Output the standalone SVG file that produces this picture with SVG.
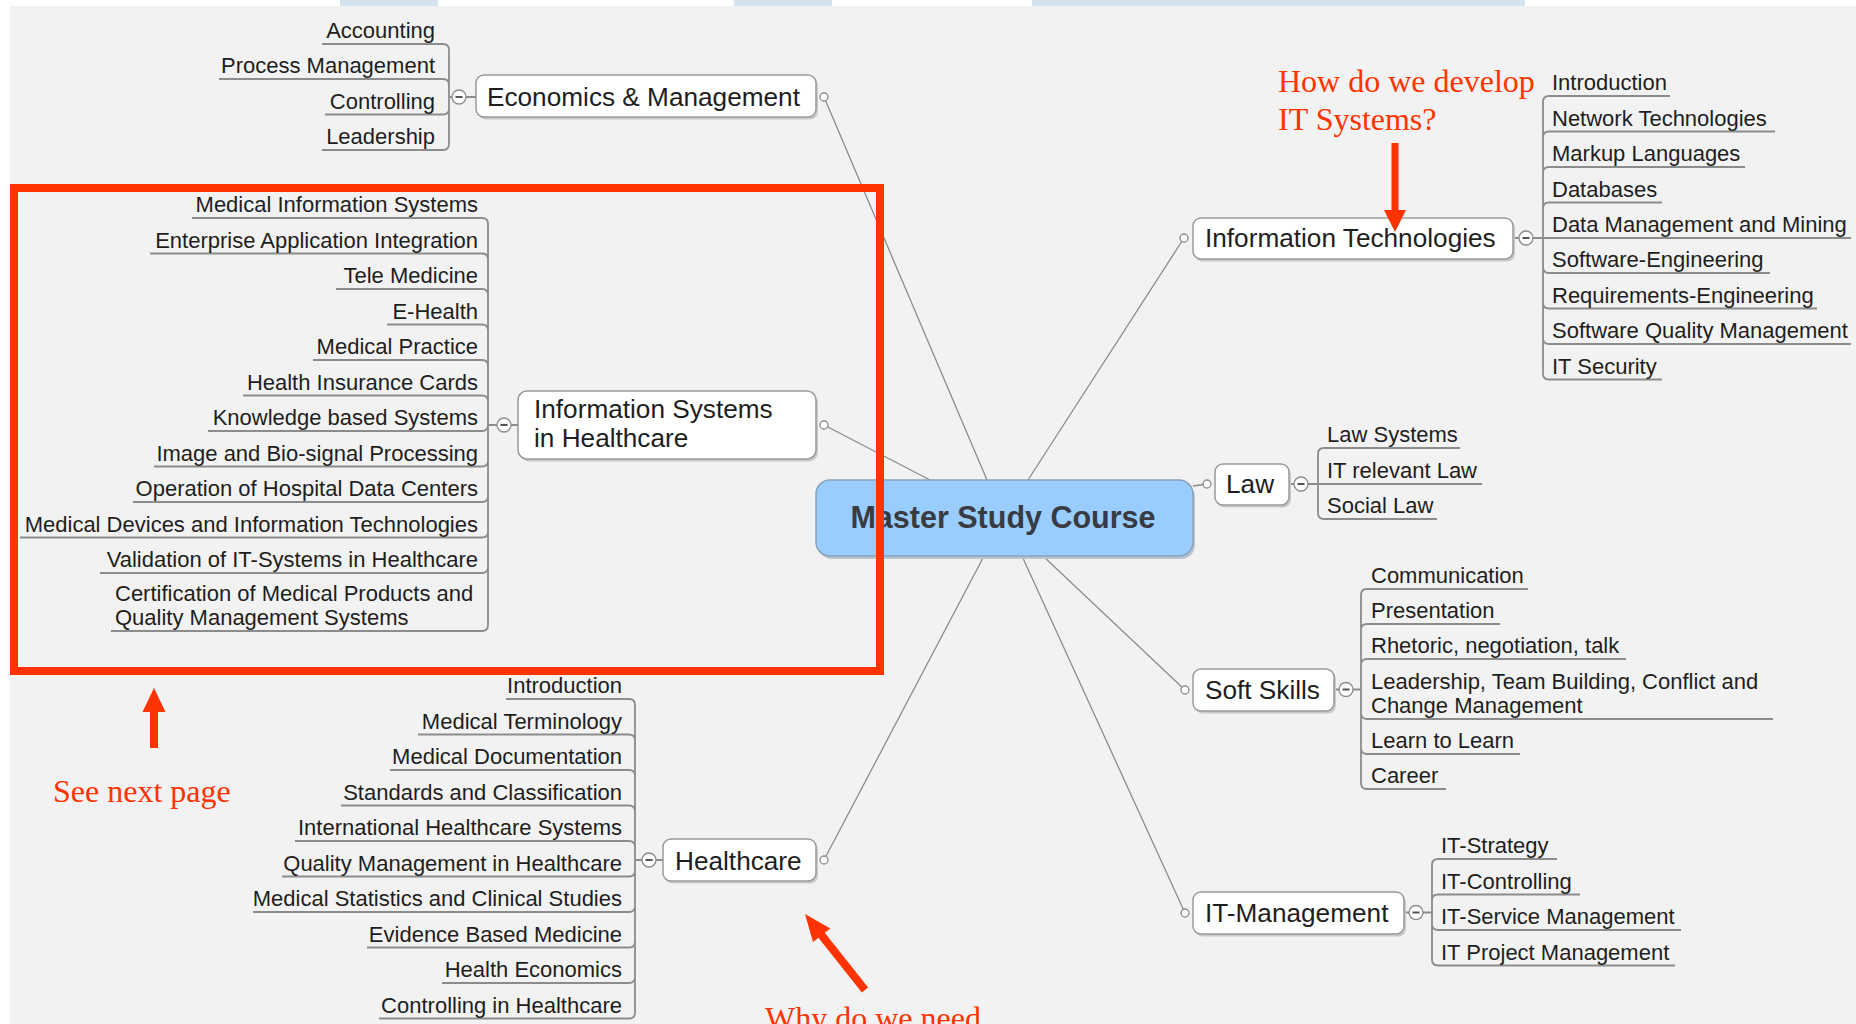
<svg xmlns="http://www.w3.org/2000/svg" width="1856" height="1024" viewBox="0 0 1856 1024">
<style>
.box{fill:#fff;stroke:#9a9a9a;stroke-width:1.5}
.sh{fill:#c9c9c9}
.tm{font-family:"Liberation Sans",Arial,sans-serif;font-size:26.2px;fill:#1e1e1e}
.tl{font-family:"Liberation Sans",Arial,sans-serif;font-size:22px;fill:#1e1e1e}
.end{text-anchor:end}
.ul{stroke:#8c8c8c;stroke-width:1.8;fill:none}
.cn{stroke:#8c8c8c;stroke-width:1.8;fill:none}
.sp{stroke:#8c8c8c;stroke-width:1.3;fill:none}
.kn{fill:#fff;stroke:#8c8c8c;stroke-width:1.3}
.mi{stroke:#555;stroke-width:2}
.ann{font-family:"Liberation Serif","Times New Roman",serif;font-size:32px;fill:#ff3300}
.red{fill:#ff3300}
</style>
<defs>
<g id="col"><circle class="kn" r="7"/><line class="mi" x1="-3.5" y1="0" x2="3.5" y2="0"/></g>
</defs>
<rect x="0" y="0" width="1856" height="1024" fill="#fff"/>
<rect x="10" y="6" width="1846" height="1018" fill="#f2f2f2"/>
<rect x="340" y="0" width="98" height="6" fill="#d4e4ee"/>
<rect x="734" y="0" width="98" height="6" fill="#d4e4ee"/>
<rect x="1032" y="0" width="493" height="6" fill="#d4e4ee"/>

<g id="connectors">
<path class="sp" d="M824 97L987 480M824 425L930 480M824 860L984 556M1184 238L1028 480M1193 486L1207 484M1043 556L1185 690M1022 556L1185 913"/>
<path class="cn" d="M449 97H476M443 44Q449 44 449 50V97M443 79Q449 79 449 85V97M443 114.5Q449 114.5 449 108.5V97M443 150Q449 150 449 144V97"/>
<path class="cn" d="M488 425H518M482 218Q488 218 488 224V425M482 253.5Q488 253.5 488 259.5V425M482 289Q488 289 488 295V425M482 324.5Q488 324.5 488 330.5V425M482 360Q488 360 488 366V425M482 395.5Q488 395.5 488 401.5V425M482 431Q488 431 488 425M482 466.5Q488 466.5 488 460.5V425M482 502Q488 502 488 496V425M482 537.5Q488 537.5 488 531.5V425M482 573Q488 573 488 567V425M482 631Q488 631 488 625V425"/>
<path class="cn" d="M635 860H663M629 699Q635 699 635 705V860M629 734.5Q635 734.5 635 740.5V860M629 770Q635 770 635 776V860M629 805.5Q635 805.5 635 811.5V860M629 841Q635 841 635 847V860M629 876.5Q635 876.5 635 870.5V860M629 912Q635 912 635 906V860M629 947.5Q635 947.5 635 941.5V860M629 983Q635 983 635 977V860M629 1018.5Q635 1018.5 635 1012.5V860"/>
<path class="cn" d="M1513 238H1549M1549 96Q1543 96 1543 102V238M1549 131.5Q1543 131.5 1543 137.5V238M1549 167Q1543 167 1543 173V238M1549 202.5Q1543 202.5 1543 208.5V238M1549 273Q1543 273 1543 267V238M1549 308.5Q1543 308.5 1543 302.5V238M1549 344Q1543 344 1543 338V238M1549 379.5Q1543 379.5 1543 373.5V238"/>
<path class="cn" d="M1289 484H1324M1324 448Q1318 448 1318 454V484M1324 519Q1318 519 1318 513V484"/>
<path class="cn" d="M1334 689.5H1361M1367 589Q1361 589 1361 595V689.5M1367 624Q1361 624 1361 630V689.5M1367 659Q1361 659 1361 665V689.5M1367 719Q1361 719 1361 713V689.5M1367 754Q1361 754 1361 748V689.5M1367 789Q1361 789 1361 783V689.5"/>
<path class="cn" d="M1404 912.5H1432M1438 859Q1432 859 1432 865V912.5M1438 894.5Q1432 894.5 1432 900.5V912.5M1438 930Q1432 930 1432 924V912.5M1438 965.5Q1432 965.5 1432 959.5V912.5"/>
</g>

<g id="central">
<rect x="818" y="483" width="377" height="76" rx="14" fill="#b9c6d2"/>
<rect x="816" y="480" width="377" height="76" rx="14" fill="#99ccff" stroke="#8aa2ba" stroke-width="1.5"/>
<text x="1003" y="528" text-anchor="middle" font-family="Liberation Sans,Arial,sans-serif" font-weight="bold" font-size="30.5" fill="#383c42">Master Study Course</text>
</g>

<g id="economics">
<rect class="sh" x="478" y="77.5" width="340" height="42" rx="8"/>
<rect class="box" x="476" y="75" width="340" height="42" rx="8"/>
<text class="tm" x="487" y="106">Economics &amp; Management</text>
<circle class="kn" cx="824" cy="97" r="4"/>
<use href="#col" x="459" y="97"/>
</g>
<g id="econ-accounting"><path class="ul" d="M322 44H443"/><text class="tl end" x="435" y="38">Accounting</text></g>
<g id="econ-process"><path class="ul" d="M219 79H443"/><text class="tl end" x="435" y="73">Process Management</text></g>
<g id="econ-controlling"><path class="ul" d="M325 114.5H443"/><text class="tl end" x="435" y="108.5">Controlling</text></g>
<g id="econ-leadership"><path class="ul" d="M322 150H443"/><text class="tl end" x="435" y="144">Leadership</text></g>

<g id="is-healthcare">
<rect class="sh" x="520" y="393.5" width="298" height="68" rx="9"/>
<rect class="box" x="518" y="391" width="298" height="68" rx="9"/>
<text class="tm" x="534" y="418">Information Systems</text>
<text class="tm" x="534" y="447">in Healthcare</text>
<circle class="kn" cx="824" cy="425" r="4"/>
<use href="#col" x="504" y="425"/>
</g>
<g id="is-1"><path class="ul" d="M192 218H482"/><text class="tl end" x="478" y="212">Medical Information Systems</text></g>
<g id="is-2"><path class="ul" d="M150 253.5H482"/><text class="tl end" x="478" y="247.5">Enterprise Application Integration</text></g>
<g id="is-3"><path class="ul" d="M336 289H482"/><text class="tl end" x="478" y="283">Tele Medicine</text></g>
<g id="is-4"><path class="ul" d="M387 324.5H482"/><text class="tl end" x="478" y="318.5">E-Health</text></g>
<g id="is-5"><path class="ul" d="M313 360H482"/><text class="tl end" x="478" y="354">Medical Practice</text></g>
<g id="is-6"><path class="ul" d="M243 395.5H482"/><text class="tl end" x="478" y="389.5">Health Insurance Cards</text></g>
<g id="is-7"><path class="ul" d="M208 431H482"/><text class="tl end" x="478" y="425">Knowledge based Systems</text></g>
<g id="is-8"><path class="ul" d="M154 466.5H482"/><text class="tl end" x="478" y="460.5">Image and Bio-signal Processing</text></g>
<g id="is-9"><path class="ul" d="M133 502H482"/><text class="tl end" x="478" y="496">Operation of Hospital Data Centers</text></g>
<g id="is-10"><path class="ul" d="M20 537.5H482"/><text class="tl end" x="478" y="531.5">Medical Devices and Information Technologies</text></g>
<g id="is-11"><path class="ul" d="M100 573H482"/><text class="tl end" x="478" y="567">Validation of IT-Systems in Healthcare</text></g>
<g id="is-12"><path class="ul" d="M111 631H482"/><text class="tl" x="115" y="601">Certification of Medical Products and</text><text class="tl" x="115" y="625">Quality Management Systems</text></g>

<g id="healthcare">
<rect class="sh" x="665" y="841.5" width="153" height="42" rx="8"/>
<rect class="box" x="663" y="839" width="153" height="42" rx="8"/>
<text class="tm" x="675" y="870">Healthcare</text>
<circle class="kn" cx="824" cy="860" r="4"/>
<use href="#col" x="649" y="860"/>
</g>
<g id="hc-1"><path class="ul" d="M506 699H629"/><text class="tl end" x="622" y="693">Introduction</text></g>
<g id="hc-2"><path class="ul" d="M418 734.5H629"/><text class="tl end" x="622" y="728.5">Medical Terminology</text></g>
<g id="hc-3"><path class="ul" d="M390 770H629"/><text class="tl end" x="622" y="764">Medical Documentation</text></g>
<g id="hc-4"><path class="ul" d="M341 805.5H629"/><text class="tl end" x="622" y="799.5">Standards and Classification</text></g>
<g id="hc-5"><path class="ul" d="M295 841H629"/><text class="tl end" x="622" y="835">International Healthcare Systems</text></g>
<g id="hc-6"><path class="ul" d="M282 876.5H629"/><text class="tl end" x="622" y="870.5">Quality Management in Healthcare</text></g>
<g id="hc-7"><path class="ul" d="M253 912H629"/><text class="tl end" x="622" y="906">Medical Statistics and Clinical Studies</text></g>
<g id="hc-8"><path class="ul" d="M367 947.5H629"/><text class="tl end" x="622" y="941.5">Evidence Based Medicine</text></g>
<g id="hc-9"><path class="ul" d="M442 983H629"/><text class="tl end" x="622" y="977">Health Economics</text></g>
<g id="hc-10"><path class="ul" d="M379 1018.5H629"/><text class="tl end" x="622" y="1012.5">Controlling in Healthcare</text></g>

<g id="info-tech">
<rect class="sh" x="1195" y="220.5" width="320" height="41" rx="8"/>
<rect class="box" x="1193" y="218" width="320" height="41" rx="8"/>
<text class="tm" x="1205" y="247">Information Technologies</text>
<circle class="kn" cx="1184" cy="238" r="4"/>
<use href="#col" x="1526" y="238"/>
</g>
<g id="it-1"><path class="ul" d="M1549 96H1670"/><text class="tl" x="1552" y="90">Introduction</text></g>
<g id="it-2"><path class="ul" d="M1549 131.5H1775"/><text class="tl" x="1552" y="125.5">Network Technologies</text></g>
<g id="it-3"><path class="ul" d="M1549 167H1745"/><text class="tl" x="1552" y="161">Markup Languages</text></g>
<g id="it-4"><path class="ul" d="M1549 202.5H1662"/><text class="tl" x="1552" y="196.5">Databases</text></g>
<g id="it-5"><path class="ul" d="M1549 238H1851"/><text class="tl" x="1552" y="232">Data Management and Mining</text></g>
<g id="it-6"><path class="ul" d="M1549 273H1770"/><text class="tl" x="1552" y="267">Software-Engineering</text></g>
<g id="it-7"><path class="ul" d="M1549 308.5H1817"/><text class="tl" x="1552" y="302.5">Requirements-Engineering</text></g>
<g id="it-8"><path class="ul" d="M1549 344H1851"/><text class="tl" x="1552" y="338">Software Quality Management</text></g>
<g id="it-9"><path class="ul" d="M1549 379.5H1662"/><text class="tl" x="1552" y="373.5">IT Security</text></g>

<g id="law">
<rect class="sh" x="1217" y="466.5" width="74" height="41" rx="8"/>
<rect class="box" x="1215" y="464" width="74" height="41" rx="8"/>
<text class="tm" x="1226" y="493">Law</text>
<circle class="kn" cx="1207" cy="484" r="4"/>
<use href="#col" x="1301" y="484"/>
</g>
<g id="law-1"><path class="ul" d="M1324 448H1460"/><text class="tl" x="1327" y="442">Law Systems</text></g>
<g id="law-2"><path class="ul" d="M1324 484H1482"/><text class="tl" x="1327" y="478">IT relevant Law</text></g>
<g id="law-3"><path class="ul" d="M1324 519H1437"/><text class="tl" x="1327" y="513">Social Law</text></g>

<g id="soft-skills">
<rect class="sh" x="1195" y="671.5" width="141" height="42" rx="8"/>
<rect class="box" x="1193" y="669" width="141" height="42" rx="8"/>
<text class="tm" x="1205" y="699">Soft Skills</text>
<circle class="kn" cx="1185" cy="690" r="4"/>
<use href="#col" x="1346" y="689.5"/>
</g>
<g id="ss-1"><path class="ul" d="M1367 589H1528"/><text class="tl" x="1371" y="583">Communication</text></g>
<g id="ss-2"><path class="ul" d="M1367 624H1500"/><text class="tl" x="1371" y="618">Presentation</text></g>
<g id="ss-3"><path class="ul" d="M1367 659H1626"/><text class="tl" x="1371" y="653">Rhetoric, negotiation, talk</text></g>
<g id="ss-4"><path class="ul" d="M1367 719H1773"/><text class="tl" x="1371" y="689">Leadership, Team Building, Conflict and</text><text class="tl" x="1371" y="713">Change Management</text></g>
<g id="ss-5"><path class="ul" d="M1367 754H1520"/><text class="tl" x="1371" y="748">Learn to Learn</text></g>
<g id="ss-6"><path class="ul" d="M1367 789H1446"/><text class="tl" x="1371" y="783">Career</text></g>

<g id="it-management">
<rect class="sh" x="1195" y="894.5" width="211" height="42" rx="8"/>
<rect class="box" x="1193" y="892" width="211" height="42" rx="8"/>
<text class="tm" x="1205" y="922">IT-Management</text>
<circle class="kn" cx="1185" cy="913" r="4"/>
<use href="#col" x="1416" y="912.5"/>
</g>
<g id="itm-1"><path class="ul" d="M1438 859H1557"/><text class="tl" x="1441" y="853">IT-Strategy</text></g>
<g id="itm-2"><path class="ul" d="M1438 894.5H1580"/><text class="tl" x="1441" y="888.5">IT-Controlling</text></g>
<g id="itm-3"><path class="ul" d="M1438 930H1681"/><text class="tl" x="1441" y="924">IT-Service Management</text></g>
<g id="itm-4"><path class="ul" d="M1438 965.5H1675"/><text class="tl" x="1441" y="959.5">IT Project Management</text></g>

<g id="annotations">
<rect x="14" y="188" width="866" height="483" fill="none" stroke="#ff3300" stroke-width="8"/>
<rect class="red" x="150" y="708" width="8" height="40"/>
<polygon class="red" points="154,688 142.5,712 165.5,712"/>
<text class="ann" x="53" y="802">See next page</text>
<rect class="red" x="1391.5" y="143" width="7" height="69"/>
<polygon class="red" points="1384,210 1406,210 1395,232"/>
<text class="ann" x="1278" y="92">How do we develop</text>
<text class="ann" x="1278" y="130">IT Systems?</text>
<path d="M865 990L819 932" stroke="#ff3300" stroke-width="8"/>
<polygon class="red" points="805,914 813,942 830.3,928.4"/>
<text class="ann" x="765" y="1029">Why do we need</text>
</g>
</svg>
